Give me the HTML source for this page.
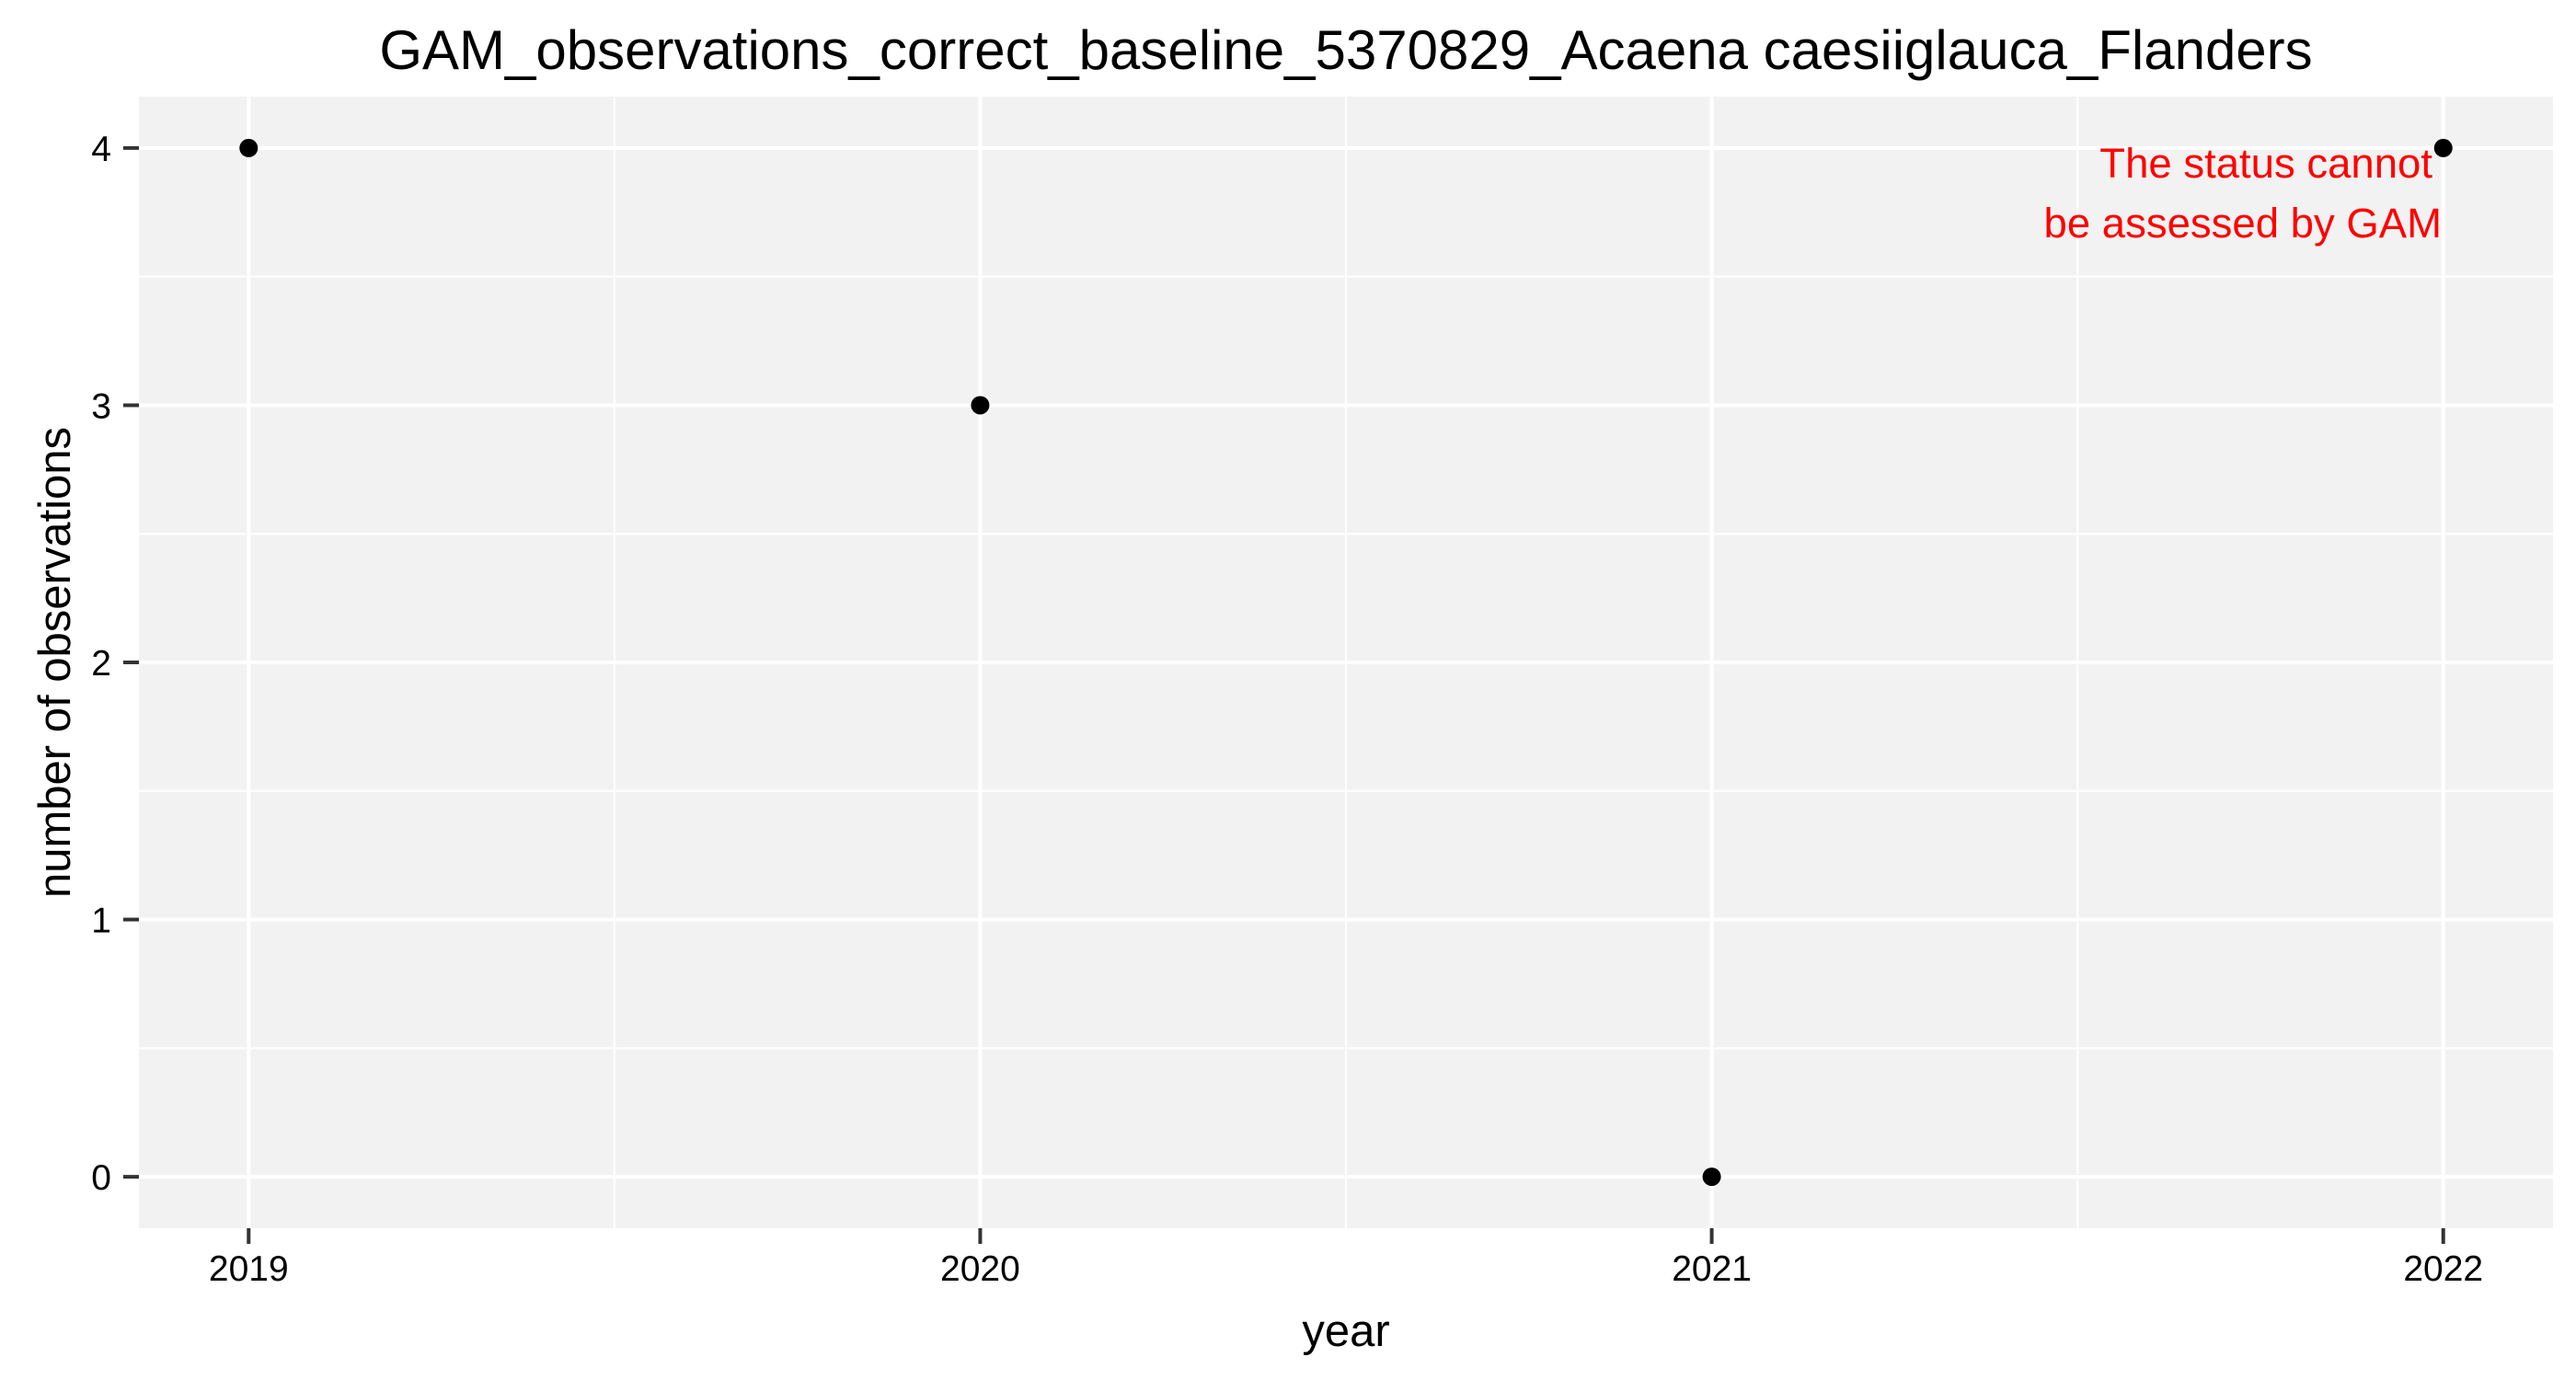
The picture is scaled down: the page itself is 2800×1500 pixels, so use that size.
<!DOCTYPE html>
<html><head><meta charset="utf-8"><style>
html,body{margin:0;padding:0;background:#fff;}
svg{display:block;font-family:"Liberation Sans",Arial,sans-serif;}
</style></head><body>
<svg id="chart" width="2800" height="1500" viewBox="0 0 2800 1500" xmlns="http://www.w3.org/2000/svg">
<rect width="2800" height="1500" fill="#fff"/>
<text x="1463" y="75" font-size="60" text-anchor="middle">GAM_observations_correct_baseline_5370829_Acaena caesiiglauca_Flanders</text>
<rect x="151" y="105" width="2624" height="1230" fill="#f2f2f2"/>
<g id="grid"></g>
<g id="axes"></g>
<g id="points"></g>
<text x="2644" y="193" font-size="45.5" fill="#ff0000" text-anchor="end">The status cannot</text>
<text x="2654" y="258" font-size="45.5" fill="#ff0000" text-anchor="end">be assessed by GAM</text>
<text x="1463" y="1463" font-size="49" text-anchor="middle">year</text>
<text transform="translate(76,720) rotate(-90)" font-size="49" text-anchor="middle">number of observations</text>
</svg>
<script>
const years = [2019, 2020, 2021, 2022];
const counts = [4, 3, 0, 4];
const yTicks = [0, 1, 2, 3, 4];
const xTicks = [2019, 2020, 2021, 2022];
const NS = "http://www.w3.org/2000/svg";
const L = 151, R = 2775, T = 105, B = 1335;
const xMin = 2019 - 0.15, xMax = 2022 + 0.15, yMin = -0.2, yMax = 4.2;
const xs = v => L + (v - xMin) / (xMax - xMin) * (R - L);
const ys = v => B - (v - yMin) / (yMax - yMin) * (B - T);
function mk(tag, attrs, parent) {
  const e = document.createElementNS(NS, tag);
  for (const k in attrs) e.setAttribute(k, attrs[k]);
  parent.appendChild(e);
  return e;
}
const grid = document.getElementById('grid');
const axes = document.getElementById('axes');
const pts = document.getElementById('points');
for (let i = 0; i < yTicks.length - 1; i++) {
  const v = (yTicks[i] + yTicks[i + 1]) / 2;
  const l = mk('line', {x1: L, x2: R, y1: ys(v), y2: ys(v), stroke: '#fff', 'stroke-width': 2}, grid);
  
  
}
for (let i = 0; i < xTicks.length - 1; i++) {
  const v = (xTicks[i] + xTicks[i + 1]) / 2;
  const l = mk('line', {x1: xs(v), x2: xs(v), y1: T, y2: B, stroke: '#fff', 'stroke-width': 2}, grid);
  
  
}
yTicks.forEach(v => {
  const l = mk('line', {x1: L, x2: R, y1: ys(v), y2: ys(v), stroke: '#fff', 'stroke-width': 4}, grid);
  
  
  const t = mk('line', {x1: L - 17, x2: L, y1: ys(v), y2: ys(v), stroke: '#333', 'stroke-width': 4}, axes);
  
  
  const tx = mk('text', {x: L - 30, y: ys(v) + 14, 'font-size': 39, 'text-anchor': 'end', fill: '#000'}, axes);
  tx.textContent = v;
  
  
});
xTicks.forEach(v => {
  const l = mk('line', {x1: xs(v), x2: xs(v), y1: T, y2: B, stroke: '#fff', 'stroke-width': 4}, grid);
  
  
  const t = mk('line', {x1: xs(v), x2: xs(v), y1: B, y2: B + 17, stroke: '#333', 'stroke-width': 4}, axes);
  
  
  const tx = mk('text', {x: xs(v), y: 1392, 'font-size': 39, 'text-anchor': 'middle', fill: '#000'}, axes);
  tx.textContent = v;
  
  
});
years.forEach((y, i) => {
  const c = mk('circle', {cx: xs(y), cy: ys(counts[i]), r: 10, fill: '#000'}, pts);
  
  
});
</script>
</body></html>
